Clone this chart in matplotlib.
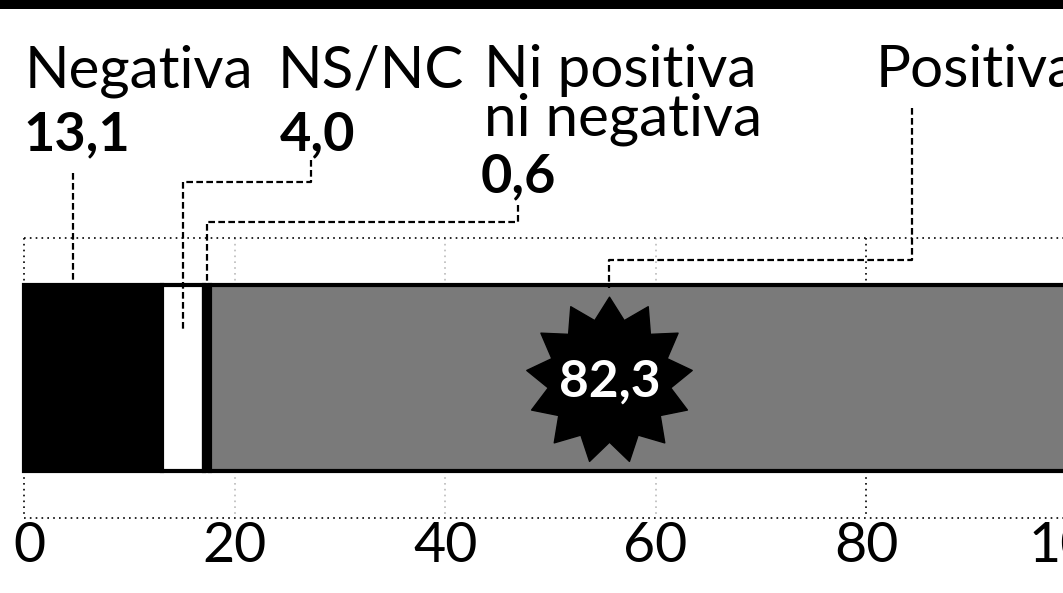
import numpy as np
import matplotlib.pyplot as plt
from matplotlib.path import Path

# data
categories = ['Negativa', 'NS/NC', 'Ni positiva\nni negativa', 'Positiva']
values = [13.1, 4.0, 0.6, 82.3]
value_labels = ['13,1', '4,0', '0,6', '82,3']
ticks = [0, 20, 40, 60, 80, 100]
tick_labels = ['0', '20', '40', '60', '80', '100']

colors = ['black', 'white', 'black', '#7a7a7a']

plt.rcParams['font.family'] = ['Lato', 'DejaVu Sans']

fig = plt.figure(figsize=(10.63, 5.93), dpi=100)
ax = fig.add_axes([0, 0, 1, 1])
ax.set_xlim(-2.28, 98.7)
ax.set_ylim(593, 0)
ax.axis('off')

bar_y = 378
bar_h = 186

# black band across the top
ax.axhspan(0, 9, xmin=0.0, xmax=1, color='black', lw=0)

# dotted frame / grid
ax.plot([0, 98.7], [238, 238], color='black', lw=1.2, ls=(0, (1, 2.5)))
ax.plot([0, 98.7], [518, 518], color='black', lw=1.2, ls=(0, (1, 2.5)))
for t in ticks:
    c = 'black' if t in (0, 80) else '#bbbbbb'
    ax.plot([t, t], [238, 518], color=c, lw=1.2, ls=(0, (1, 2.5)), zorder=0)

# stacked bar
lefts = np.concatenate([[0], np.cumsum(values)[:-1]])
ax.barh(bar_y, values, left=lefts, height=bar_h, color=colors,
        edgecolor='black', linewidth=3, zorder=2)

# starburst behind the big number
n = 13
ang = np.linspace(0, 2 * np.pi, 2 * n, endpoint=False) + np.pi / 2
rad = np.where(np.arange(2 * n) % 2 == 0, 1.0, 0.74)
verts = np.column_stack([rad * np.cos(ang), rad * np.sin(ang)])
verts = np.vstack([verts, verts[:1]])
star = Path(verts, closed=True)
pos_x = 55.6
ax.plot([pos_x], [380], marker=star, markersize=120, color='black',
        mec='black', zorder=3)
ax.text(pos_x, 382, value_labels[3], color='white', fontsize=37,
        fontweight='bold', ha='center', va='center', zorder=4)

fs = 42
fs_num = 39
# labels
ax.text(0.1, 87, categories[0], fontsize=fs, ha='left', va='baseline')
ax.text(-0.1, 150, value_labels[0], fontsize=fs_num, fontweight='bold',
        ha='left', va='baseline')
ax.text(24.1, 87, categories[1], fontsize=fs, ha='left', va='baseline')
ax.text(24.3, 150, value_labels[1], fontsize=fs_num, fontweight='bold',
        ha='left', va='baseline')
ax.text(43.7, 87, 'Ni positiva', fontsize=fs, ha='left', va='baseline')
ax.text(43.7, 135, 'ni negativa', fontsize=fs, ha='left', va='baseline')
ax.text(43.4, 192, value_labels[2], fontsize=fs_num, fontweight='bold',
        ha='left', va='baseline')
ax.text(80.9, 87, categories[3], fontsize=fs, ha='left', va='baseline')

# leader lines
dash = dict(color='black', lw=1.6, ls=(0, (3, 1.5)), zorder=5)
neg_x = 4.65
ax.plot([neg_x, neg_x], [173, 288], **dash)
nsnc_x = values[0] + values[1] / 2
ax.plot([27.3, 27.3, nsnc_x, nsnc_x], [160, 182, 182, 330], **dash)
ni_x = values[0] + values[1] + values[2] / 2
ax.plot([46.9, 46.9, ni_x, ni_x], [205, 222, 222, 292], **dash)
ax.plot([84.4, 84.4, pos_x, pos_x], [108, 260, 260, 288], **dash)

# tick labels
for t, lab in zip(ticks, tick_labels):
    ax.text(t + (0.5 if t == 0 else 0), 546, lab, fontsize=40,
            ha='center', va='center', color='black', clip_on=False)

fig.savefig('out.png', dpi=100)
